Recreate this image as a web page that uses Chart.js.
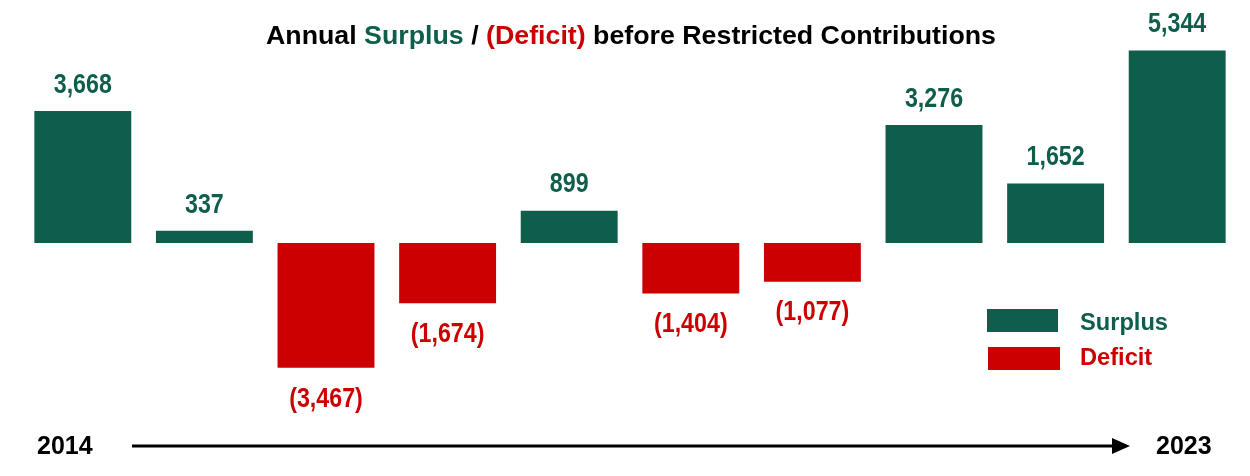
<!DOCTYPE html>
<html>
<head>
<meta charset="utf-8">
<script src="https://cdn.jsdelivr.net/npm/chart.js@4"></script>
<style>
  html, body { margin: 0; padding: 0; background: #fff; }
  #wrap { width: 1250px; height: 476px; }
</style>
</head>
<body>
<div id="wrap"><canvas id="chart"></canvas></div>
<script>
// data
const years = ["2014", "2015", "2016", "2017", "2018", "2019", "2020", "2021", "2022", "2023"];
const values = [3668, 337, -3467, -1674, 899, -1404, -1077, 3276, 1652, 5344];
const legendLabels = ["Surplus", "Deficit"];

const GREEN = "#0E5E4B";
const RED = "#CC0000";
const SANS = '"Liberation Sans", Arial, sans-serif';

const fmt = (v) => {
  const s = Math.abs(v).toLocaleString("en-US");
  return v < 0 ? "(" + s + ")" : s;
};

// no narrow font installed, so squeeze the text horizontally
function squeezed(ctx, text, x, y, sx, align) {
  ctx.save();
  ctx.translate(x, y);
  ctx.scale(sx, 1);
  ctx.textAlign = align;
  ctx.fillText(text, 0, 0);
  ctx.restore();
}

const decor = {
  id: "decor",
  afterDatasetsDraw(chart) {
    const ctx = chart.ctx;
    const meta = chart.getDatasetMeta(0);
    ctx.save();
    ctx.textBaseline = "middle";

    // value labels
    ctx.font = "bold 28px " + SANS;
    meta.data.forEach((bar, i) => {
      const v = values[i];
      if (v >= 0) {
        ctx.fillStyle = GREEN;
        squeezed(ctx, fmt(v), bar.x, bar.y - 26, 0.83, "center");
      } else {
        ctx.fillStyle = RED;
        squeezed(ctx, fmt(v), bar.x, bar.y + 31, 0.83, "center");
      }
    });

    // title, in three colours
    const parts = [
      ["Annual ", "#000"],
      ["Surplus", GREEN],
      [" / ", "#000"],
      ["(Deficit)", RED],
      [" before Restricted Contributions", "#000"]
    ];
    ctx.font = "bold 25px " + SANS;
    const total = parts.reduce((w, p) => w + ctx.measureText(p[0]).width, 0);
    const sx = 730 / total;
    let x = 266;
    parts.forEach(([t, c]) => {
      ctx.fillStyle = c;
      squeezed(ctx, t, x, 37, sx, "left");
      x += ctx.measureText(t).width * sx;
    });

    // legend
    ctx.fillStyle = GREEN;
    ctx.fillRect(987, 309, 71, 23);
    ctx.fillStyle = RED;
    ctx.fillRect(988, 347, 72, 23);
    ctx.font = "bold 24px " + SANS;
    const lsx = 88 / ctx.measureText(legendLabels[0]).width;
    ctx.fillStyle = GREEN;
    squeezed(ctx, legendLabels[0], 1080, 323, lsx, "left");
    ctx.fillStyle = RED;
    squeezed(ctx, legendLabels[1], 1080, 358, lsx, "left");

    // timeline arrow
    ctx.font = "bold 25px " + SANS;
    ctx.fillStyle = "#000";
    ctx.textAlign = "left";
    ctx.fillText(years[0], 37, 447);
    ctx.fillText(years[years.length - 1], 1156, 447);
    ctx.strokeStyle = "#000";
    ctx.lineWidth = 3;
    ctx.beginPath();
    ctx.moveTo(132, 446);
    ctx.lineTo(1118, 446);
    ctx.stroke();
    ctx.beginPath();
    ctx.moveTo(1112, 438);
    ctx.lineTo(1130, 446);
    ctx.lineTo(1112, 454);
    ctx.closePath();
    ctx.fill();

    ctx.restore();
  }
};

new Chart(document.getElementById("chart"), {
  type: "bar",
  data: {
    labels: years,
    datasets: [{
      data: values,
      backgroundColor: values.map(v => v >= 0 ? GREEN : RED),
      borderWidth: 0,
      barPercentage: 0.797,
      categoryPercentage: 1
    }]
  },
  options: {
    responsive: true,
    maintainAspectRatio: false,
    animation: false,
    layout: { padding: { left: 22, right: 12, top: 27, bottom: 17 } },
    plugins: {
      legend: { display: false },
      title: { display: false },
      tooltip: { enabled: false }
    },
    scales: {
      x: { display: false },
      y: { display: false, min: -6000, max: 6000 }
    }
  },
  plugins: [decor]
});
</script>
</body>
</html>
